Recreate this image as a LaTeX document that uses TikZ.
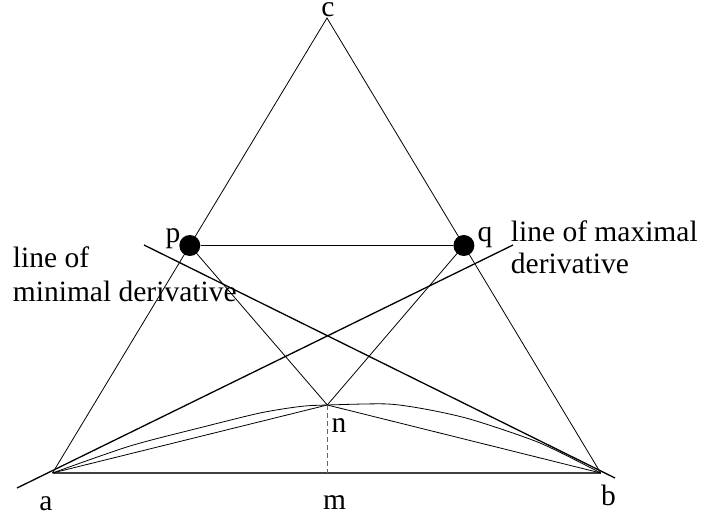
\documentclass[tikz,border=0pt]{standalone}
\usepackage{fontspec}
\setmainfont{Liberation Serif}
\begin{document}
\begin{tikzpicture}[x=1pt,y=-1pt,
  thinline/.style={draw=black,line width=0.8pt},
  derivline/.style={draw=black,line width=1.3pt},
  baseline/.style={draw=black!75,line width=1.3pt},
  heightline/.style={draw=black!60,line width=1.2pt,dash pattern=on 5pt off 3pt},
  dotnode/.style={circle,fill=black,inner sep=0pt,minimum size=21pt},
  lbl/.style={inner sep=0pt,font=\fontsize{29.5}{34}\selectfont},
]
\useasboundingbox (0,0) rectangle (704,518);
% vertices
\coordinate (a) at (52.5,473);
\coordinate (b) at (600.7,473);
\coordinate (c) at (327,18);
\coordinate (n) at (327.3,405);
\coordinate (m) at (327.3,473);
\coordinate (maxS) at (17,488);
\coordinate (maxE) at (513,245);
\coordinate (minS) at (144,245);
\coordinate (minE) at (615,478);
% triangle
\draw[thinline] (a) -- (c) -- (b);
\draw[baseline] (a) -- (b);
% dots
\node[dotnode] (p) at (189.8,245.5) {};
\node[dotnode] (q) at (463.9,245.5) {};
\draw[thinline] (p) -- (q);
\draw[thinline] (p.center) -- (n) -- (q.center);
% straight lines to n
\draw[thinline] (a) -- (n) -- (b);
% curve
\draw[thinline] plot[smooth,tension=0.45] coordinates {(52.5,473) (130,446) (203,427) (260,413) (300,406.5) (327.3,405) (388,404) (430,410) (473,420) (540,443) (600.7,473)};
% height
\draw[heightline] (n) -- (m);
% derivative lines
\draw[derivline] (maxS) -- (maxE);
\draw[derivline] (minS) -- (minE);
% labels
\node[lbl,anchor=base] (lc) at (328,16.5) {c};
\node[lbl,anchor=base] (lp) at (173,243) {p};
\node[lbl,anchor=base] (lq) at (485,242) {q};
\node[lbl,anchor=base] (ln) at (339,432) {n};
\node[lbl,anchor=base] (lm) at (334.5,509) {m};
\node[lbl,anchor=base] (la) at (46,510) {a};
\node[lbl,anchor=base] (lb) at (608.5,505) {b};
\node[lbl,anchor=base west] (lmax1) at (510.7,241.7) {line of maximal};
\node[lbl,anchor=base west] (lmax2) at (510.7,273.5) {derivative};
\node[lbl,anchor=base west] (lmin1) at (12.7,268) {line of};
\node[lbl,anchor=base west] (lmin2) at (12.7,302) {minimal derivative};
\end{tikzpicture}
\end{document}
